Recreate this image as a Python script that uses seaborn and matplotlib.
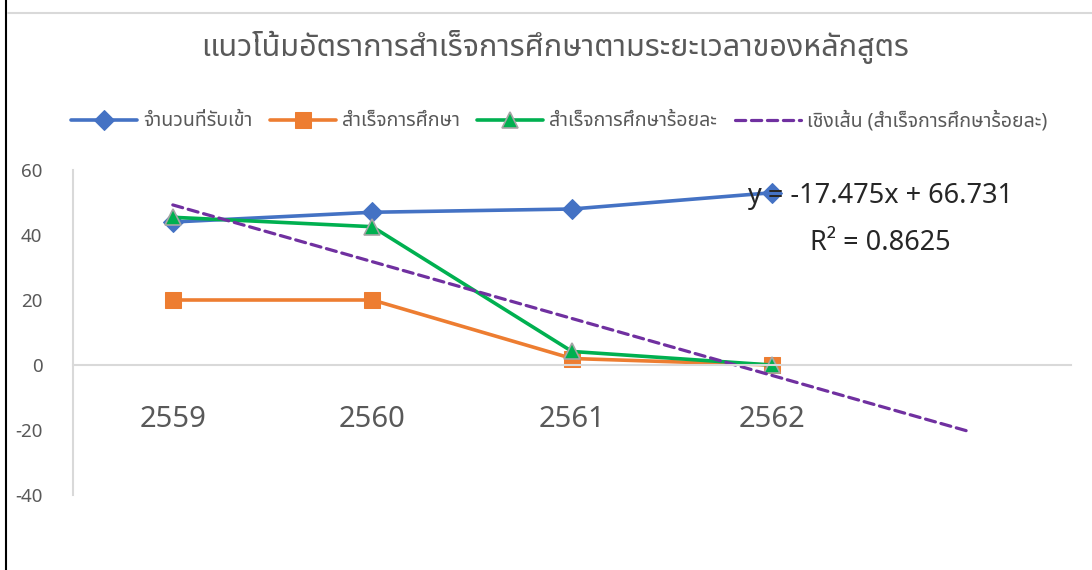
import numpy as np
import matplotlib
matplotlib.use("Agg")
import matplotlib.pyplot as plt
from matplotlib import font_manager
from matplotlib.ft2font import FT2Font
from matplotlib.lines import Line2D
import seaborn as sns

# ข้อมูลหลักสูตร
years = ["2559", "2560", "2561", "2562"]
admitted = [44, 47, 48, 53]
graduated = [20, 20, 2, 0]
grad_pct = [45.4545, 42.5532, 4.1667, 0.0]

title = "แนวโน้มอัตราการสำเร็จการศึกษาตามระยะเวลาของหลักสูตร"
labels = ["จำนวนที่รับเข้า", "สำเร็จการศึกษา", "สำเร็จการศึกษาร้อยละ",
          "เชิงเส้น (สำเร็จการศึกษาร้อยละ)"]


def find_thai_font():
    # หา font ที่มีอักษรไทย
    names = []
    for f in font_manager.fontManager.ttflist:
        try:
            if 0x0E01 in FT2Font(f.fname).get_charmap():
                names.append(f.name)
        except Exception:
            pass
    for pref in ["Noto Sans Thai", "Noto Sans Thai UI", "Loma", "Garuda", "Sarabun", "Tlwg Typo"]:
        if pref in names:
            return pref
    return names[0] if names else "DejaVu Sans"


sns.set_style("white")
thai = find_thai_font()
plt.rcParams["font.family"] = [thai, "Noto Sans", "DejaVu Sans"]

grey = "#595959"
x = np.arange(1, len(years) + 1)

# เส้นแนวโน้ม (forecast ไปข้างหน้า 1 ช่วง)
slope, intercept = np.polyfit(x, grad_pct, 1)
x_trend = np.arange(1, len(years) + 2)
y_trend = slope * x_trend + intercept
fitted = slope * x + intercept
pct = np.array(grad_pct)
r2 = 1 - np.sum((pct - fitted) ** 2) / np.sum((pct - pct.mean()) ** 2)

fig = plt.figure(figsize=(10.92, 5.70), dpi=100)
ax = fig.add_axes([73 / 1092, 1 - 495 / 570, 998 / 1092, 325 / 570])

sns.lineplot(x=x, y=admitted, ax=ax, color="#4472C4", lw=2.6, marker="D",
             markersize=10, markeredgecolor="#4472C4", label=labels[0])
sns.lineplot(x=x, y=graduated, ax=ax, color="#ED7D31", lw=2.6, marker="s",
             markersize=11, markeredgecolor="#ED7D31", label=labels[1])
sns.lineplot(x=x, y=grad_pct, ax=ax, color="#00B050", lw=2.6, marker="^",
             markersize=11, markeredgecolor="#A5A5A5", markeredgewidth=1.2, label=labels[2])
ln = sns.lineplot(x=x_trend, y=y_trend, ax=ax, color="#7030A0", lw=2.3, label=labels[3]).lines[-1]
ln.set_dashes((3.2, 1.8))
ln.set_dash_capstyle("round")

ax.set_xlim(0.5, 5.5)
ax.set_ylim(-40, 60)
ax.set_yticks(np.arange(-40, 61, 20))
ax.set_xticks(x)
ax.set_xticklabels(years)
ax.spines["bottom"].set_position(("data", 0))
for s in ["top", "right"]:
    ax.spines[s].set_visible(False)
ax.spines["bottom"].set_color("#D9D9D9")
ax.spines["left"].set_color("#D9D9D9")
ax.spines["bottom"].set_linewidth(1.5)
ax.spines["left"].set_linewidth(1.5)
ax.tick_params(axis="y", length=0, pad=22, labelsize=13.5, labelcolor=grey)
ax.tick_params(axis="x", length=0, pad=29, labelsize=21, labelcolor=grey)
for t in ax.get_xticklabels():
    t.set_fontweight("light")
ax.set_xlabel("")
ax.set_ylabel("")

ax.text(4.545, 52, f"y = {slope:.3f}x + {intercept:.3f}", ha="center", va="center",
        fontsize=19.5, color="#262626")
ax.text(4.545, 37.5, f"R² = {r2:.4f}", ha="center", va="center",
        fontsize=19.5, color="#262626")

ax.get_legend().remove()
handles, lbls = ax.get_legend_handles_labels()
fig.legend(handles, lbls, loc="center", bbox_to_anchor=(0.512, 1 - 121 / 570), ncol=4,
           frameon=False, fontsize=14, labelcolor=grey, handlelength=3.4,
           columnspacing=0.9, handletextpad=0.3)

fig.text(0.508, 1 - 47 / 570, title, ha="center", va="center", fontsize=22,
         fontweight="bold", color=grey)

# กรอบของภาพ
fig.add_artist(Line2D([6 / 1092, 6 / 1092], [0, 1], color="black", lw=1.5))
fig.add_artist(Line2D([8 / 1092, 1], [1 - 13 / 570, 1 - 13 / 570], color="#D9D9D9", lw=1.5))

fig.savefig("out.png", dpi=100)
